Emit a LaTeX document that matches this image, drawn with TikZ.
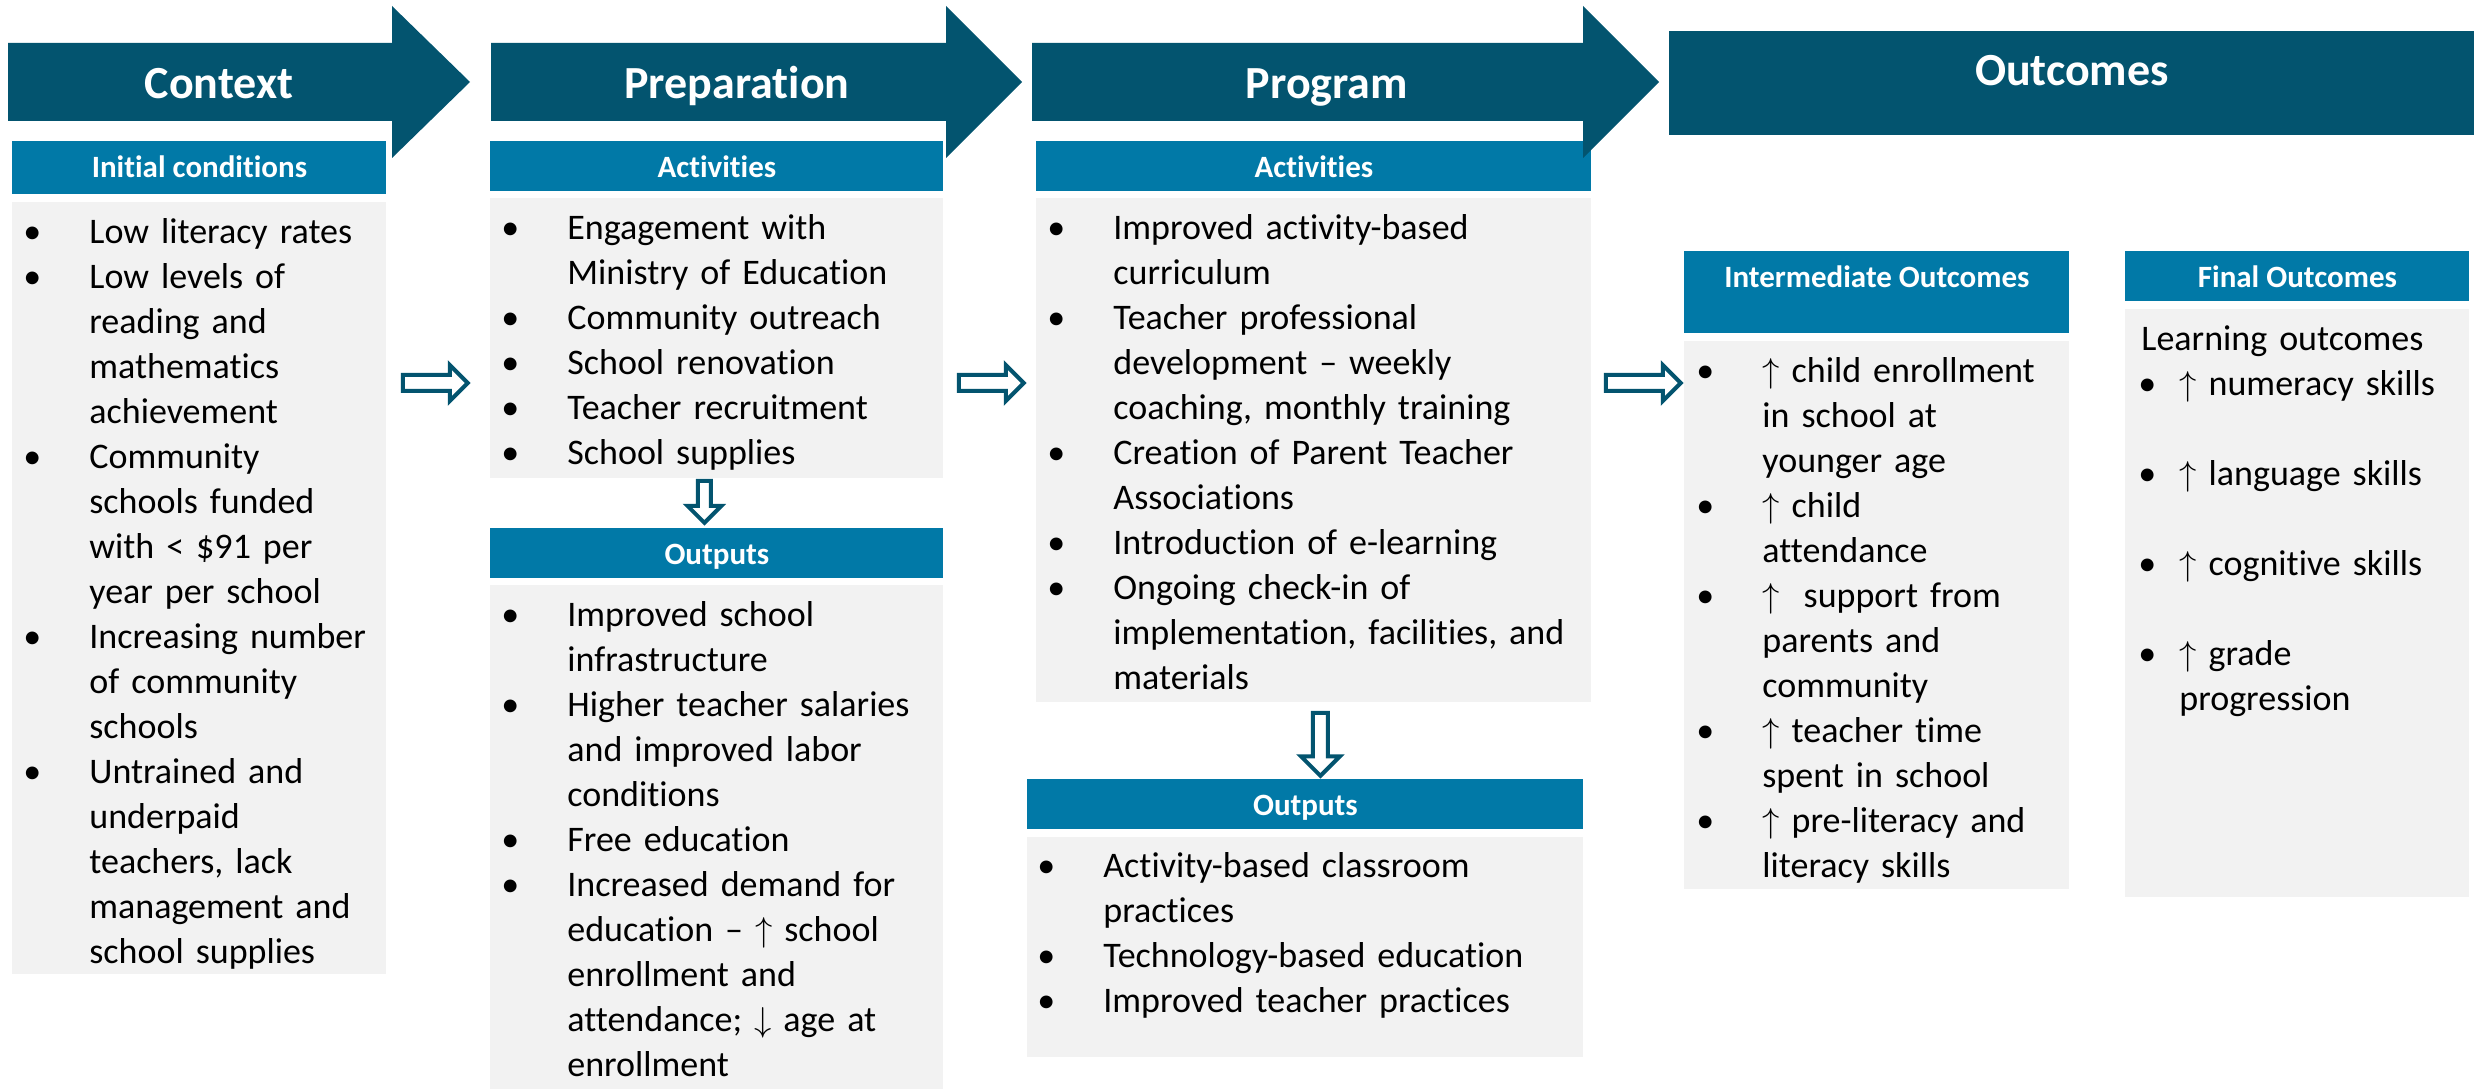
\documentclass[tikz,border=0pt]{standalone}
\usepackage{fontspec}
\setmainfont{Carlito}[Ligatures={TeX,NoCommon}]
\usepackage{amsmath}
\usepackage{tikz}

\definecolor{darkteal}{RGB}{3,84,111}
\definecolor{midblue}{RGB}{1,121,167}
\definecolor{panelgray}{RGB}{242,242,242}

\newcommand{\itm}[1]{\hangindent=27.5pt\hangafter=1\noindent\strut\makebox[27.5pt][l]{\hspace*{-5.5pt}\textbullet}#1\par}
\newcommand{\fitm}[1]{\hangindent=19pt\hangafter=1\noindent\strut\makebox[19pt][l]{\hspace*{-1.5pt}\textbullet}#1\par}

\tikzset{
  headbox/.style={fill=midblue, anchor=north west, inner sep=0pt, text=white, font=\fontsize{15.5}{18}\selectfont\bfseries, text height=18pt, text depth=7pt},
  bodybox/.style={fill=panelgray, anchor=north west, inner sep=0pt},
  itemtext/.style={anchor=north west, inner sep=0pt, align=left, font=\fontsize{18}{22.5}\selectfont},
  phaselabel/.style={anchor=base, inner sep=0pt, text=white, font=\fontsize{23}{28}\selectfont\bfseries},
  hollowline/.style={draw=darkteal, line width=2pt, fill=white}
}

\begin{document}
\begin{tikzpicture}[x=0.5pt, y=-0.5pt]
\useasboundingbox (0,0) rectangle (2481,1091);

% header and body boxes
\node[headbox, minimum width=187pt, text depth=8.5pt] (ctxhead) at (12,141) {Initial conditions};
\node[bodybox, minimum width=187pt, minimum height=386pt] (ctxbody) at (12,202) {};

\node[headbox, minimum width=226.5pt] (prepacthead) at (490,141) {Activities};
\node[bodybox, minimum width=226.5pt, minimum height=140pt] (prepactbody) at (490,198) {};
\node[headbox, minimum width=226.5pt] (prepouthead) at (490,528) {Outputs};
\node[bodybox, minimum width=226.5pt, minimum height=252pt] (prepoutbody) at (490,585) {};

\node[headbox, minimum width=277.5pt] (progacthead) at (1036,141) {Activities};
\node[bodybox, minimum width=277.5pt, minimum height=252pt] (progactbody) at (1036,198) {};
\node[headbox, minimum width=278pt] (progouthead) at (1027,779) {Outputs};
\node[bodybox, minimum width=278pt, minimum height=110pt] (progoutbody) at (1027,837) {};

\node[headbox, minimum width=192.5pt, text depth=23pt] (interhead) at (1684,251) {Intermediate Outcomes};
\node[bodybox, minimum width=192.5pt, minimum height=274pt] (interbody) at (1684,341) {};
\node[headbox, minimum width=172pt] (finalhead) at (2125,251) {Final Outcomes};
\node[bodybox, minimum width=172pt, minimum height=294pt] (finalbody) at (2125,309) {};

% phase arrows
\fill[darkteal] (8,43) -- (392,43) -- (392,6) -- (470,82) -- (392,158) -- (392,121) -- (8,121) -- cycle;
\fill[darkteal] (491,43) -- (946,43) -- (946,6) -- (1022,82) -- (946,158) -- (946,121) -- (491,121) -- cycle;
\fill[darkteal] (1032,43) -- (1583,43) -- (1583,6) -- (1659,82) -- (1583,158) -- (1583,121) -- (1032,121) -- cycle;
\node[fill=darkteal, anchor=north west, inner sep=0pt, minimum width=402.5pt, text=white, font=\fontsize{23}{28}\selectfont\bfseries, text height=27pt, text depth=25pt] (outcomes) at (1669,31) {Outcomes};

\node[phaselabel] (ctxlabel) at (219,99) {Context};
\node[phaselabel] (preplabel) at (737,99) {Preparation};
\node[phaselabel] (proglabel) at (1327,99) {Program};

% connectors
\coordinate (midrow) at (0,383);
\draw[hollowline] (ctxbody.east |- midrow) ++(16,-8) -- ++(47,0) -- ++(0,-10) -- ++(18,18) -- ++(-18,18) -- ++(0,-10) -- ++(-47,0) -- cycle;
\draw[hollowline] (prepactbody.east |- midrow) ++(15,-8) -- ++(47,0) -- ++(0,-10) -- ++(18,18) -- ++(-18,18) -- ++(0,-10) -- ++(-47,0) -- cycle;
\draw[hollowline] (progactbody.east |- midrow) ++(14,-8) -- ++(57,0) -- ++(0,-10) -- ++(18,18) -- ++(-18,18) -- ++(0,-10) -- ++(-57,0) -- cycle;
\draw[hollowline] (prepactbody.south) ++(-19,2) -- ++(0,25) -- ++(-10.5,0) -- ++(17,17) -- ++(17,-17) -- ++(-10.5,0) -- ++(0,-25) -- cycle;
\draw[hollowline] (progactbody.south) ++(-1,10) -- ++(0,43.5) -- ++(-12,0) -- ++(19.5,19.5) -- ++(19.5,-19.5) -- ++(-12,0) -- ++(0,-43.5) -- cycle;

% texts
\node[itemtext, text width=200pt, xshift=11pt, yshift=-4.75pt] (ctxtext) at (ctxbody.north west) {%
\itm{Low literacy rates}
\itm{Low levels of\newline reading and\newline mathematics\newline achievement}
\itm{Community\newline schools funded\newline with < \$91 per\newline year per school}
\itm{Increasing number\newline of community\newline schools}
\itm{Untrained and\newline underpaid\newline teachers, lack\newline management and\newline school supplies}};

\node[itemtext, text width=240pt, xshift=11pt, yshift=-4.75pt] (prepacttext) at (prepactbody.north west) {%
\itm{Engagement with\newline Ministry of Education}
\itm{Community outreach}
\itm{School renovation}
\itm{Teacher recruitment}
\itm{School supplies}};

\node[itemtext, text width=240pt, xshift=11pt, yshift=-4.75pt] (prepouttext) at (prepoutbody.north west) {%
\itm{Improved school\newline infrastructure}
\itm{Higher teacher salaries\newline and improved labor\newline conditions}
\itm{Free education}
\itm{Increased demand for\newline education – $\uparrow$ school\newline enrollment and\newline attendance; $\downarrow$ age at\newline enrollment}};

\node[itemtext, text width=290pt, xshift=11pt, yshift=-4.75pt] (progacttext) at (progactbody.north west) {%
\itm{Improved activity-based\newline curriculum}
\itm{Teacher professional\newline development – weekly\newline coaching, monthly training}
\itm{Creation of Parent Teacher\newline Associations}
\itm{Introduction of e-learning}
\itm{Ongoing check-in of\newline implementation, facilities, and\newline materials}};

\node[itemtext, text width=290pt, xshift=10.5pt, yshift=-4.25pt] (progouttext) at (progoutbody.north west) {%
\itm{Activity-based classroom\newline practices}
\itm{Technology-based education}
\itm{Improved teacher practices}};

\node[itemtext, text width=210pt, xshift=11.5pt, yshift=-4.75pt] (intertext) at (interbody.north west) {%
\itm{$\uparrow$ child enrollment\newline in school at\newline younger age}
\itm{$\uparrow$ child\newline attendance}
\itm{$\uparrow$\ \ support from\newline parents and\newline community}
\itm{$\uparrow$ teacher time\newline spent in school}
\itm{$\uparrow$ pre-literacy and\newline literacy skills}};

\node[itemtext, text width=190pt, xshift=8pt, yshift=-4.75pt] (finaltext) at (finalbody.north west) {%
\noindent\strut Learning outcomes\par
\fitm{$\uparrow$ numeracy skills}\vskip22.5pt
\fitm{$\uparrow$ language skills}\vskip22.5pt
\fitm{$\uparrow$ cognitive skills}\vskip22.5pt
\fitm{$\uparrow$ grade\newline progression}};

\end{tikzpicture}
\end{document}
